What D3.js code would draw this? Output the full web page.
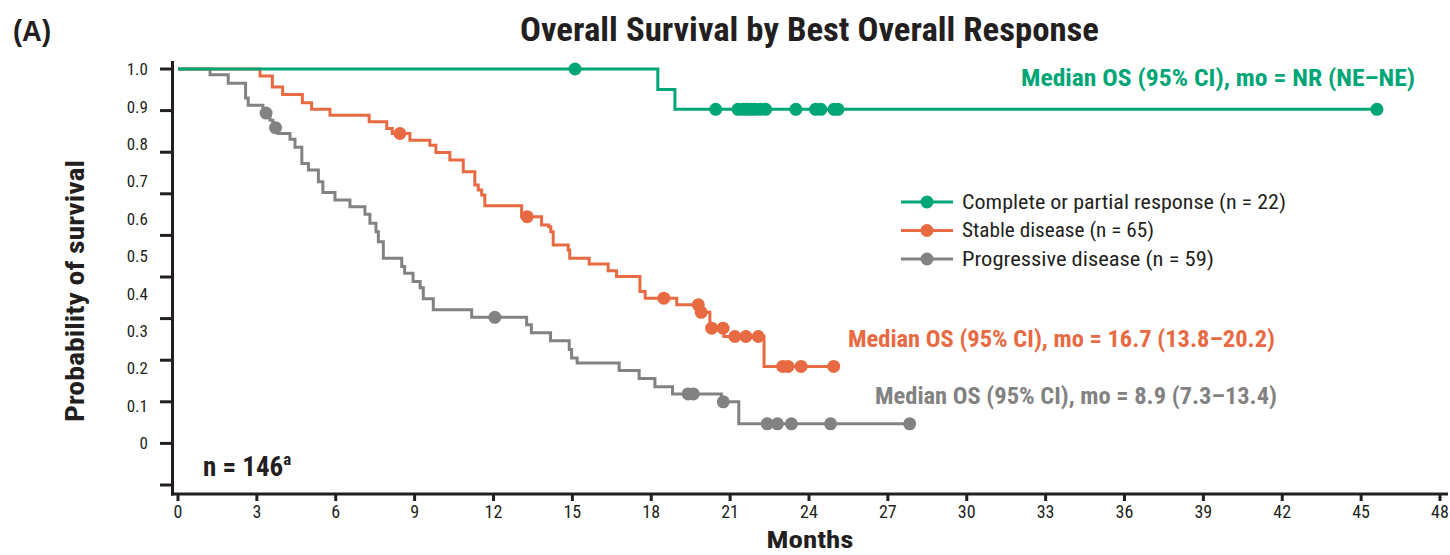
<!DOCTYPE html>
<head>
    <meta charset="utf-8">
</head>

<style type="text/css">
    body { margin: 0; background: #fff; }
    svg { display: block; }
    text { font-family: "Liberation Sans Narrow", "Arial Narrow", "Roboto Condensed", "Liberation Sans", sans-serif; fill: #231f20; }
    .axis-line { stroke: #231f20; stroke-width: 3; fill: none; }
    .tick-mark { stroke: #231f20; stroke-width: 3; }
    .km-line { fill: none; stroke-width: 3; }
</style>

<body>
    <div id="chart"></div>
</body>

<script src="https://d3js.org/d3.v7.min.js"></script>

<script>

// Kaplan-Meier steps: month of each drop, survival after it
var crTimes = [0, 18.25, 18.9];
var crSurv  = [1.0, 0.951, 0.903];
var crEnd = 45.6;
var crCensor = [15.1, 20.45, 21.3, 21.5, 21.65, 21.8, 21.95, 22.15, 22.35, 23.5, 24.25, 24.45, 24.95, 25.1, 45.6];

var sdTimes = [0, 3.12, 3.59, 3.98, 4.73, 5.08, 5.78, 7.27, 7.94, 8.15, 8.82, 9.58, 9.81, 10.34, 10.85, 11.29, 11.42, 11.55, 11.67,
               13.07, 13.83, 14.1, 14.18, 14.27, 14.84, 14.9, 15.64, 16.36, 16.68, 17.57, 17.77, 18.97, 19.85, 20.23, 20.76, 22.29];
var sdSurv  = [1.0, 0.983, 0.957, 0.939, 0.919, 0.903, 0.889, 0.873, 0.857, 0.845, 0.829, 0.817, 0.799, 0.781, 0.753, 0.721, 0.709, 0.697, 0.671,
               0.645, 0.625, 0.621, 0.609, 0.577, 0.565, 0.545, 0.531, 0.515, 0.501, 0.465, 0.449, 0.433, 0.415, 0.377, 0.357, 0.285];
var sdEnd = 24.94;
var sdCensor = [8.44, 13.28, 18.48, 19.79, 19.9, 20.3, 20.73, 21.18, 21.6, 22.07, 23.0, 23.2, 23.7, 24.94];

var pdTimes = [0, 1.22, 1.91, 2.57, 2.67, 3.23, 3.5, 3.61, 3.81, 4.26, 4.45, 4.71, 4.96, 5.34, 5.51, 5.97, 6.54, 7.11, 7.30, 7.53, 7.62, 7.81,
               8.51, 8.62, 8.94, 9.21, 9.33, 9.71, 11.17, 13.26, 13.44, 14.17, 14.88, 14.97, 15.18, 16.78, 17.54, 18.14, 18.81, 20.67, 21.33];
var pdSurv  = [1.0, 0.986, 0.966, 0.930, 0.913, 0.894, 0.877, 0.859, 0.845, 0.831, 0.812, 0.773, 0.757, 0.729, 0.703, 0.685, 0.669, 0.651, 0.629, 0.609, 0.585, 0.545,
               0.525, 0.509, 0.489, 0.474, 0.448, 0.421, 0.403, 0.385, 0.366, 0.347, 0.326, 0.305, 0.293, 0.275, 0.256, 0.236, 0.219, 0.200, 0.147];
var pdEnd = 27.83;
var pdCensor = [3.35, 3.71, 12.05, 19.4, 19.6, 20.74, 22.41, 22.8, 23.33, 24.82, 27.83];

var seriesNames = ["Complete or partial response (n = 22)", "Stable disease (n = 65)", "Progressive disease (n = 59)"];
var seriesColors = ["#00a676", "#e86a42", "#828282"];
var medianLabels = ["Median OS (95% CI), mo = NR (NE\u2013NE)",
                    "Median OS (95% CI), mo = 16.7 (13.8\u201320.2)",
                    "Median OS (95% CI), mo = 8.9 (7.3\u201313.4)"];

var xTicks = d3.range(0, 49, 3);
var yTicks = d3.range(0, 11).map(function(i) { return i / 10; });
var yTickLabels = ["0", "0.1", "0.2", "0.3", "0.4", "0.5", "0.6", "0.7", "0.8", "0.9", "1.0"];

var W = 1450, H = 555;

var svg = d3.select("#chart").append("svg")
    .attr("width", W)
    .attr("height", H);

var xscale = d3.scaleLinear().domain([0, 48]).range([178, 1440]);
var yscale = d3.scaleLinear().domain([0, 1]).range([485, 69]);
// the original figure prints its y labels on a tighter spacing than the ticks
var ylabelScale = d3.scaleLinear().domain([0, 1]).range([443, 69]);

// axes
var axisX0 = 172.5, axisY0 = 494;

svg.append("line").attr("class", "axis-line")
    .attr("x1", axisX0).attr("x2", axisX0)
    .attr("y1", 61).attr("y2", axisY0 + 1.5);
svg.append("line").attr("class", "axis-line")
    .attr("x1", axisX0 - 1.5).attr("x2", 1448)
    .attr("y1", axisY0).attr("y2", axisY0);

svg.selectAll(".ytick").data(yTicks).enter().append("line")
    .attr("class", "tick-mark")
    .attr("x1", 160).attr("x2", axisX0)
    .attr("y1", function(d) { return yscale(d); })
    .attr("y2", function(d) { return yscale(d); });

svg.selectAll(".ylab").data(yTicks).enter().append("text")
    .attr("x", 148)
    .attr("y", function(d) { return ylabelScale(d); })
    .attr("dy", "0.36em")
    .attr("text-anchor", "end")
    .style("font-size", "17px")
    .text(function(d, i) { return yTickLabels[i]; });

svg.selectAll(".xtick").data(xTicks).enter().append("line")
    .attr("class", "tick-mark")
    .attr("x1", function(d) { return xscale(d); })
    .attr("x2", function(d) { return xscale(d); })
    .attr("y1", axisY0).attr("y2", axisY0 + 7);

svg.selectAll(".xlab").data(xTicks).enter().append("text")
    .attr("x", function(d) { return xscale(d); })
    .attr("y", 518)
    .attr("text-anchor", "middle")
    .style("font-size", "18px")
    .text(function(d) { return d; });

// curves
function survAt(times, surv, t) {
    var i = d3.bisectRight(times, t) - 1;
    return surv[Math.max(i, 0)];
}

var line = d3.line()
    .curve(d3.curveStepAfter)
    .x(function(d) { return xscale(d[0]); })
    .y(function(d) { return yscale(d[1]); });

var series = [
    {times: crTimes, surv: crSurv, end: crEnd, censor: crCensor},
    {times: sdTimes, surv: sdSurv, end: sdEnd, censor: sdCensor},
    {times: pdTimes, surv: pdSurv, end: pdEnd, censor: pdCensor}
];

// draw grey first so green sits on top
[2, 1, 0].forEach(function(k) {
    var s = series[k];
    var pts = s.times.map(function(t, i) { return [t, s.surv[i]]; });
    pts.push([s.end, s.surv[s.surv.length - 1]]);

    svg.append("path")
        .attr("class", "km-line")
        .attr("stroke", seriesColors[k])
        .attr("d", line(pts));

    svg.append("g").selectAll("circle")
        .data(s.censor)
        .enter()
        .append("circle")
        .attr("r", 6.5)
        .attr("fill", seriesColors[k])
        .attr("cx", function(d) { return xscale(d); })
        .attr("cy", function(d) { return yscale(survAt(s.times, s.surv, d)); });
});

// legend
var legend = svg.append("g").attr("transform", "translate(901,202)");
seriesNames.forEach(function(name, i) {
    var g = legend.append("g").attr("transform", "translate(0," + (i * 28.5) + ")");
    g.append("line").attr("x1", 0).attr("x2", 52).attr("y1", 0).attr("y2", 0)
        .attr("stroke", seriesColors[i]).attr("stroke-width", 3);
    g.append("circle").attr("cx", 26).attr("r", 6.5).attr("fill", seriesColors[i]);
    g.append("text").attr("x", 61).attr("y", 0).attr("dy", "0.33em")
        .style("font-size", "20px")
        .attr("textLength", i == 0 ? 324 : (i == 1 ? 192 : 252))
        .attr("lengthAdjust", "spacingAndGlyphs")
        .text(name);
});

// median annotations
var medianPos = [[1021, 86, 394], [848, 347, 427], [875, 404, 402]];
medianLabels.forEach(function(t, i) {
    svg.append("text")
        .attr("x", medianPos[i][0]).attr("y", medianPos[i][1])
        .attr("textLength", medianPos[i][2])
        .attr("lengthAdjust", "spacingAndGlyphs")
        .style("font-size", "23px").style("font-weight", "bold")
        .style("fill", seriesColors[i])
        .text(t);
});

// titles
svg.append("text")
    .attr("x", 520).attr("y", 41)
    .attr("textLength", 579).attr("lengthAdjust", "spacingAndGlyphs")
    .style("font-size", "34px").style("font-weight", "bold")
    .text("Overall Survival by Best Overall Response");

svg.append("text")
    .attr("x", 13).attr("y", 41)
    .style("font-family", "'Liberation Sans', Arial, sans-serif")
    .attr("textLength", 38).attr("lengthAdjust", "spacingAndGlyphs")
    .style("font-size", "30px").style("font-weight", "bold")
    .text("(A)");

svg.append("text")
    .attr("transform", "translate(84,291) rotate(-90)")
    .attr("text-anchor", "middle")
    .attr("textLength", 262).attr("lengthAdjust", "spacingAndGlyphs")
    .style("font-size", "25px").style("font-weight", "bold")
    .text("Probability of survival");

svg.append("text")
    .attr("x", 810).attr("y", 548)
    .attr("text-anchor", "middle")
    .attr("textLength", 87).attr("lengthAdjust", "spacingAndGlyphs")
    .style("font-size", "24px").style("font-weight", "bold")
    .text("Months");

var nLabel = svg.append("text")
    .attr("x", 203).attr("y", 476)
    .style("font-size", "27px").style("font-weight", "bold");
nLabel.append("tspan").text("n = 146");
nLabel.append("tspan").attr("dy", -11).style("font-size", "17px").text("a");

</script>
